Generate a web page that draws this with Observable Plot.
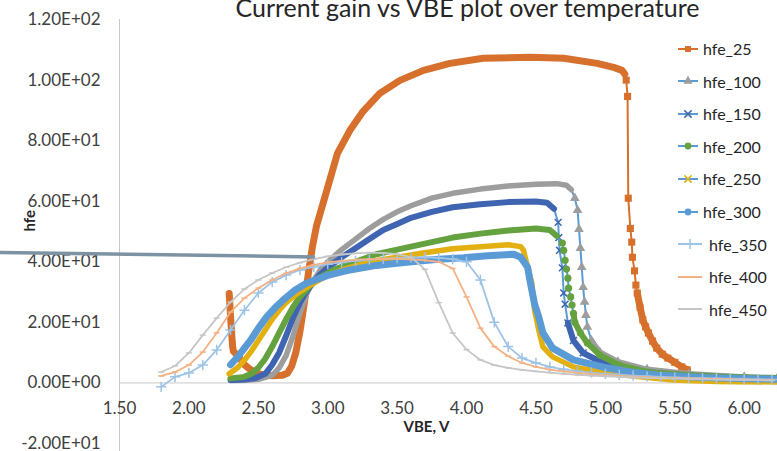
<!DOCTYPE html>
<html><head><meta charset="utf-8">
<script src="https://cdn.jsdelivr.net/npm/d3@7"></script>
<script src="https://cdn.jsdelivr.net/npm/@observablehq/plot@0.6"></script>
<style>
body{margin:0;background:#fff;}
#wrap{position:relative;width:777px;height:451px;overflow:hidden;font-family:Lato,"Open Sans",sans-serif;color:#404040;}
#title{position:absolute;left:0;width:935px;text-align:center;top:-8px;font-size:25px;line-height:1.2;white-space:nowrap;color:#262626;}
.lg{position:absolute;left:678px;height:20px;display:flex;align-items:center;font-size:16px;white-space:nowrap;color:#262626;}
.lg svg{display:block;margin-right:5px;}
</style></head>
<body><div id="wrap"><div id="chart"></div><div id="title">Current gain vs VBE plot over temperature</div></div>
<script>
// ---- data (VBE [V], hfe) ----
const hfe_25 = [[2.29,29.5],[2.295,26],[2.30,22],[2.31,15],[2.315,12],[2.32,10.5],[2.34,9.5],[2.37,8],[2.40,6],[2.44,4.5],[2.48,3.4],[2.53,2.7],[2.60,2.4],[2.67,2.5],[2.71,3.2],[2.74,5.5],[2.77,10],[2.80,17],[2.83,26],[2.86,36],[2.89,45],[2.92,52],[2.955,57.5],[3.015,67],[3.07,75.8],[3.16,83.4],[3.25,89.4],[3.375,95.6],[3.52,99.9],[3.69,103.2],[3.88,105.5],[4.12,107.2],[4.46,107.5],[4.70,107.2],[4.94,105.5],[5.06,104.2],[5.12,103.2],[5.14,102],[5.15,100],[5.16,94.6],[5.165,61],[5.18,51],[5.19,46.5],[5.195,41.5],[5.21,37],[5.22,32.3],[5.23,29.7],[5.25,25],[5.27,20.8],[5.29,18.5],[5.31,16.5],[5.34,13.8],[5.37,11.5],[5.41,9.5],[5.45,8.2],[5.50,6.8],[5.55,5.3],[5.59,4.3]];
const hfe_100 = [[2.30,0.8],[2.40,0.9],[2.50,1.2],[2.60,2.5],[2.65,5],[2.70,9],[2.75,15.5],[2.80,23],[2.85,29.5],[2.90,34],[2.95,37.5],[3.0,40],[3.1,44],[3.2,47.5],[3.3,51],[3.4,54],[3.5,56.5],[3.6,58.5],[3.75,61],[3.9,62.6],[4.1,64],[4.3,65],[4.5,65.6],[4.65,65.8],[4.72,65.3],[4.755,63.8],[4.78,61],[4.80,57],[4.81,50.8],[4.82,44.5],[4.83,38.2],[4.84,31.6],[4.85,26.7],[4.86,22.4],[4.87,18.5],[4.90,14],[4.96,10.2],[5.09,7],[5.3,4.5],[5.6,3],[6.0,2],[6.24,1.7]];
const hfe_150 = [[2.30,1],[2.40,1.1],[2.48,1.6],[2.55,3],[2.60,6],[2.65,10],[2.70,15.5],[2.75,21.5],[2.80,26.5],[2.85,30.5],[2.90,33.5],[2.95,36],[3.0,38],[3.1,41.5],[3.2,44.5],[3.3,47.5],[3.4,50.5],[3.5,52.5],[3.6,54.5],[3.75,56.5],[3.9,58],[4.1,59],[4.3,59.7],[4.5,59.9],[4.58,59.5],[4.63,57.5],[4.66,53],[4.665,48],[4.67,43.8],[4.69,38],[4.70,29.7],[4.71,26],[4.73,19.8],[4.77,14],[4.84,9.9],[5.01,6],[5.3,3.5],[5.6,2.4],[6.0,1.6],[6.24,1.3]];
const hfe_200 = [[2.30,1.5],[2.40,2],[2.45,3],[2.50,5],[2.55,8],[2.60,12],[2.65,16.5],[2.70,21],[2.75,25],[2.80,28.5],[2.87,32],[2.95,35],[3.05,37.5],[3.2,40],[3.35,42.5],[3.5,44],[3.7,46],[3.9,48],[4.1,49.3],[4.3,50.3],[4.5,51],[4.6,50.5],[4.65,48.5],[4.69,46.2],[4.70,43.8],[4.71,40.5],[4.72,37.6],[4.73,34.6],[4.735,31.3],[4.75,28.4],[4.76,25.7],[4.77,23],[4.78,20],[4.82,16.5],[4.87,13.2],[4.96,9.2],[5.1,5.9],[5.3,3.6],[5.6,2.5],[6.0,1.8],[6.24,1.5]];
const hfe_250 = [[2.29,3],[2.35,5],[2.40,7.5],[2.45,10.5],[2.50,14],[2.55,17.5],[2.60,21],[2.65,24],[2.70,26.5],[2.78,29.5],[2.88,32.5],[3.0,35.5],[3.15,38],[3.3,40],[3.5,41.5],[3.7,43],[3.9,44.3],[4.1,45],[4.3,45.6],[4.39,45],[4.41,43.8],[4.44,38.2],[4.47,33],[4.48,28.4],[4.49,24],[4.52,17.5],[4.55,11.9],[4.62,8.6],[4.77,5.3],[5.01,3.3],[5.25,2],[5.49,1],[5.8,0.5],[6.24,0.3]];
const hfe_300 = [[2.30,6],[2.35,8.5],[2.40,11.5],[2.45,14.5],[2.50,18],[2.56,21.8],[2.62,24.8],[2.68,27.4],[2.76,30.5],[2.85,33],[3.0,35.5],[3.16,37.3],[3.35,38.8],[3.5,39.5],[3.64,40.2],[3.8,40.8],[3.98,41.3],[4.15,42],[4.34,42.5],[4.39,41.5],[4.44,38.2],[4.46,33],[4.48,28.4],[4.49,26],[4.52,21.8],[4.55,16.5],[4.62,11.5],[4.77,7.6],[5.01,5],[5.2,3.5],[5.37,2.6],[5.7,1.8],[6.0,1.4],[6.24,1.2]];
const vbeSteps = [1.8,1.9,2.0,2.1,2.2,2.3,2.4,2.5,2.6,2.7,2.8,2.9,3.0,3.1,3.2,3.3,3.4,3.5,3.6,3.7,3.8,3.9,4.0,4.1,4.2,4.3,4.4,4.5,4.6,4.7,4.8,4.9,5.0,5.1,5.2,5.3,5.4,5.5,5.6,5.7,5.8,5.9,6.0,6.1,6.2];
const hfe_350 = [-1.3,2,3.3,5.9,10.9,17.5,24,29.7,33.3,35.6,37.3,38.3,39.2,39.8,40.3,40.7,41,41.2,41.4,41.5,41.3,40.9,40,34,20,12,8.2,6.6,5.3,4.5,3.9,3.4,3,2.7,2.4,2.2,2,1.8,1.7,1.6,1.5,1.4,1.3,1.2,1.1];
const hfe_400 = [2.3,3.6,5.9,10.2,16.5,23.4,28,31.3,34,36.2,37.8,39,39.8,40.3,40.7,40.9,41,41,40.8,40.5,40,37.8,28.4,18.1,12,8.8,6.6,5.3,4.4,3.8,3.3,2.9,2.6,2.3,2.1,1.9,1.7,1.6,1.5,1.4,1.3,1.2,1.1,1.0,1.0];
const hfe_450 = [3.6,5.6,9.9,15.8,21.4,26.7,31,34,36.3,38.2,39.7,40.9,41.8,42.4,42.8,43,42.9,42.5,41.5,37.5,26.5,16.5,11,7.6,5.9,5,4.3,3.8,3.4,3.0,2.7,2.4,2.2,2.0,1.8,1.7,1.5,1.4,1.3,1.2,1.1,1.0,0.9,0.9,0.8];
const annotationLine = [[0.643,43.1],[2.898,41.6]];
const xTicks = [1.5,2.0,2.5,3.0,3.5,4.0,4.5,5.0,5.5,6.0];
const xTickLabels = ["1.50","2.00","2.50","3.00","3.50","4.00","4.50","5.00","5.50","6.00"];
const yTicks = [-20,0,20,40,60,80,100,120];
const yTickLabels = ["-2.00E+01","0.00E+00","2.00E+01","4.00E+01","6.00E+01","8.00E+01","1.00E+02","1.20E+02"];
const seriesNames = ["hfe_25","hfe_100","hfe_150","hfe_200","hfe_250","hfe_300","hfe_350","hfe_400","hfe_450"];

// ---- styles ----
const dash = {draw(ctx, size){const r = Math.sqrt(size/Math.PI); ctx.moveTo(-r,0); ctx.lineTo(r,0);}};
const dense = [
  {data:hfe_25, color:"#d6702c", line:"#d6702c", symbol:"square", r:4, band:7, steep:[5.145,5.228]},
  {data:hfe_100, color:"#9d9d9d", line:"#5b9bd5", symbol:"triangle", r:3.6, band:5.5, steep:[4.765,4.875]},
  {data:hfe_150, color:"#3f65b2", line:"#5b9bd5", symbol:"times", r:3.2, band:6, steep:[4.655,4.72]},
  {data:hfe_200, color:"#64a13f", line:"#5b9bd5", symbol:"circle", r:3.6, band:6, steep:[4.68,4.77]},
  {data:hfe_250, color:"#e2b010", line:"#5b9bd5", symbol:"times", r:3.2, band:5.5, steep:null},
  {data:hfe_300, color:"#5b9bd5", line:"#5b9bd5", symbol:"circle", r:3.2, band:7, steep:null}
];
const sparse = [
  {data:hfe_350, color:"#9dc3e6", symbol:"plus", r:3.4},
  {data:hfe_400, color:"#f4b183", symbol:dash, r:3},
  {data:hfe_450, color:"#c6c6c6", symbol:dash, r:3}
];

const marks = [
  Plot.ruleY([0], {stroke:"#c8c8c8", strokeWidth:1}),
  Plot.ruleX([1.5], {y1:120, y2:-20, insetBottom:-8, stroke:"#c8c8c8", strokeWidth:1}),
  Plot.text(yTicks, {y:d=>d, frameAnchor:"left", dx:-19, textAnchor:"end", text:(d,i)=>yTickLabels[i], fill:"#404040", fontSize:17}),
  Plot.text(xTicks, {x:d=>d, y:d=>0, dy:25.5, text:(d,i)=>xTickLabels[i], fill:"#404040", fontSize:17}),
  Plot.text(["hfe"], {frameAnchor:"left", dx:-89, rotate:-90, text:d=>d, fontWeight:"bold", fontSize:15, fill:"#262626"}),
  Plot.text(["VBE, V"], {frameAnchor:"bottom", dx:-22, dy:-12, text:d=>d, fontWeight:"bold", fontSize:15, fill:"#262626"})
];
for (const s of dense) {
  const rows = s.data.map(([x,y]) => ({x,y}));
  const inSteep = d => s.steep && d.x > s.steep[0] && d.x < s.steep[1];
  marks.push(Plot.line(rows, {x:"x", y:"y", stroke:s.line, strokeWidth:2}));
  marks.push(Plot.line(rows.filter(d => !inSteep(d)), {x:"x", y:"y", z:d => (s.steep && d.x >= s.steep[1]) ? "b" : "a", stroke:s.color, strokeWidth:s.band, strokeLinejoin:"round", strokeLinecap:"round"}));
  const pts = s.steep ? rows.filter(d => inSteep(d) || d.x >= s.steep[1]) : [];
  const isStroke = s.symbol === "times";
  marks.push(Plot.dot(pts, {x:"x", y:"y", symbol:s.symbol, r:s.r, fill:isStroke?"none":s.color, stroke:isStroke?s.color:"none", strokeWidth:1.5}));
}
for (const s of sparse) {
  const rows = vbeSteps.map((x,i) => ({x, y:s.data[i]}));
  marks.push(Plot.line(rows, {x:"x", y:"y", stroke:s.color, strokeWidth:1.8}));
  marks.push(Plot.dot(rows, {x:"x", y:"y", symbol:s.symbol, r:s.r, fill:"none", stroke:s.color, strokeWidth:1.5}));
}
marks.push(Plot.line(annotationLine.map(([x,y])=>({x,y})), {x:"x", y:"y", stroke:"#7d93a3", strokeWidth:3.5}));

const chart = Plot.plot({
  width:777, height:451,
  marginLeft:119, marginRight:0, marginTop:19, marginBottom:8,
  x:{domain:[1.5,6.24], axis:null},
  y:{domain:[-20,120], axis:null},
  style:{fontFamily:"Lato, 'Open Sans', sans-serif", background:"white", overflow:"visible"},
  marks
});
document.getElementById("chart").appendChild(chart);

// ---- legend ----
const wrap = document.getElementById("wrap");
const legendStyles = [
  {line:"#d6702c", mark:"#d6702c", sym:d3.symbolSquare, fill:true},
  {line:"#5b9bd5", mark:"#9d9d9d", sym:d3.symbolTriangle, fill:true},
  {line:"#5b9bd5", mark:"#3f65b2", sym:d3.symbolTimes, fill:false},
  {line:"#5b9bd5", mark:"#64a13f", sym:d3.symbolCircle, fill:true},
  {line:"#5b9bd5", mark:"#e2b010", sym:d3.symbolTimes, fill:false},
  {line:"#5b9bd5", mark:"#5b9bd5", sym:d3.symbolCircle, fill:true},
  {line:"#9dc3e6", mark:"#9dc3e6", sym:d3.symbolPlus, fill:false, long:true},
  {line:"#f4b183", mark:"#f4b183", sym:null, fill:false, long:true},
  {line:"#c6c6c6", mark:"#c6c6c6", sym:null, fill:false, long:true}
];
seriesNames.forEach((name, i) => {
  const st = legendStyles[i];
  const w = st.long ? 24 : 20;
  const row = document.createElement("div");
  row.className = "lg";
  row.style.top = (38.5 + i*32.6) + "px";
  const svg = d3.create("svg").attr("width", w).attr("height", 12);
  svg.append("line").attr("x1",0).attr("x2",w).attr("y1",6).attr("y2",6).attr("stroke",st.line).attr("stroke-width",2);
  if (st.sym) {
    svg.append("path").attr("transform",`translate(${w/2},6)`).attr("d", d3.symbol(st.sym, 36)())
      .attr("fill", st.fill ? st.mark : "none").attr("stroke", st.fill ? "none" : st.mark).attr("stroke-width",1.5);
  }
  row.appendChild(svg.node());
  const t = document.createElement("span");
  t.textContent = name;
  if (st.long) t.style.marginLeft = "2px";
  row.appendChild(t);
  wrap.appendChild(row);
});
</script></body></html>
